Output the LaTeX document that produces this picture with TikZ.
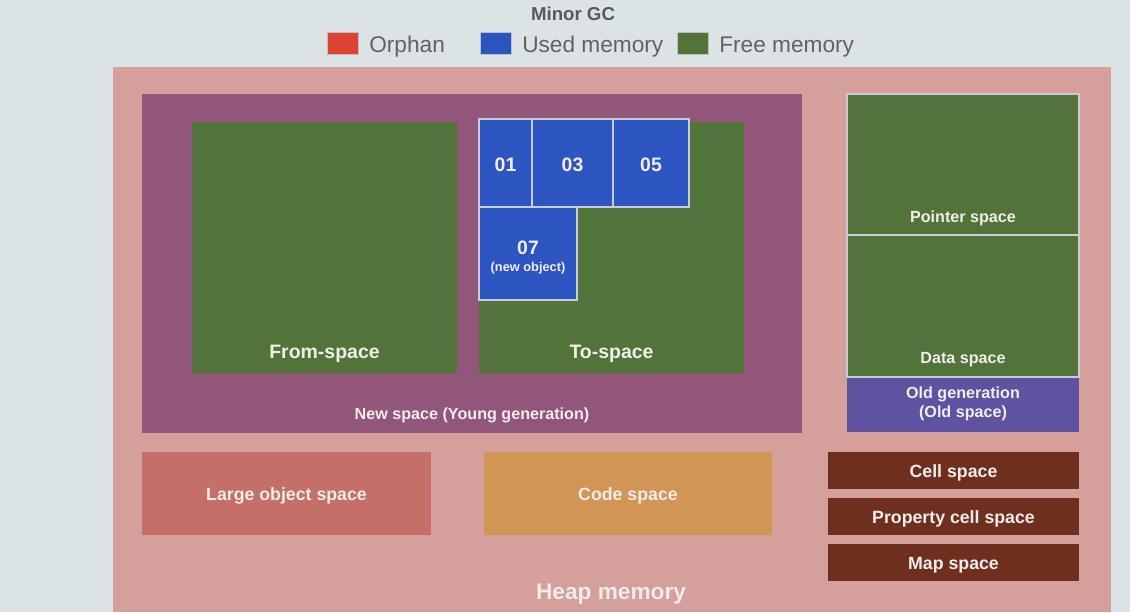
\documentclass[tikz,border=0pt]{standalone}
\usepackage{fontspec}
\setmainfont{Liberation Sans}
\usetikzlibrary{fit}
\definecolor{bgc}{HTML}{DCE3E5}
\definecolor{heapc}{HTML}{D59F9C}
\definecolor{newc}{HTML}{92567A}
\definecolor{greenc}{HTML}{52743A}
\definecolor{bluec}{HTML}{2D55C1}
\definecolor{edgec}{HTML}{C9CCD6}
\definecolor{oldc}{HTML}{5F52A1}
\definecolor{largec}{HTML}{C56F69}
\definecolor{codec}{HTML}{D19655}
\definecolor{brownc}{HTML}{6F2F1E}
\definecolor{orphc}{HTML}{DD4433}
\definecolor{legtxt}{HTML}{5F6368}
\definecolor{titlec}{HTML}{555A5E}
\definecolor{labc}{HTML}{F2ECEC}
\tikzset{
  area/.style={inner sep=0pt, outer sep=0pt, draw=none},
  cell/.style={inner sep=0pt, outer sep=0pt, draw=edgec, line width=0.8pt},
  lab/.style={text=labc, font=\bfseries\fontsize{13.3}{15}\selectfont, inner sep=0pt, align=center},
  big/.style={font=\bfseries\fontsize{14.6}{17}\selectfont},
  small/.style={font=\bfseries\fontsize{12.1}{14}\selectfont},
  legbox/.style={inner sep=0pt, minimum width=23.25pt, minimum height=16.5pt, draw=black!25, line width=0.4pt},
  legtext/.style={text=legtxt, font=\fontsize{17}{20}\selectfont, anchor=west, inner sep=0pt}
}
\begin{document}
\begin{tikzpicture}[x=0.75pt,y=-0.75pt]
\useasboundingbox (0,0) rectangle (1130,612);
\fill[bgc] (0,0) rectangle (1130,612);
% title and legend
\node[text=titlec, font=\bfseries\fontsize{14}{16}\selectfont] (title) at (573,14) {Minor GC};
\node[legbox, fill=orphc] (lo) at (342.5,43) {};
\node[legtext] (lot) at (369,47) {Orphan};
\node[legbox, fill=bluec] (lu) at (495.5,43) {};
\node[legtext] (lut) at (522,47) {Used memory};
\node[legbox, fill=greenc] (lf) at (692.5,43) {};
\node[legtext] (lft) at (719,47) {Free memory};
% heap
\node[area, fill=heapc, fit={(113,67) (1111,612)}] (heap) {};
\node[lab, font=\bfseries\fontsize{17}{20}\selectfont] (heaplab) at (611,594) {Heap memory};
% new space
\node[area, fill=newc, fit={(142,94) (802,433)}] (newsp) {};
\node[lab, small] (newlab) at (472,415) {New space (Young generation)};
\node[area, fill=greenc, fit={(192,122) (457,373)}] (from) {};
\node[lab, big] (fromlab) at (324.5,354) {From-space};
\node[area, fill=greenc, fit={(479,122) (744,373)}] (to) {};
\node[lab, big] (tolab) at (611.5,354) {To-space};
% used objects
\node[cell, fill=bluec, fit={(479,119) (532,207)}] (o1) {};
\node[lab, big] at (505.5,165) {01};
\node[cell, fill=bluec, fit={(532,119) (613,207)}] (o3) {};
\node[lab, big] at (572.5,165) {03};
\node[cell, fill=bluec, fit={(613,119) (689,207)}] (o5) {};
\node[lab, big] at (651,165) {05};
\node[cell, fill=bluec, fit={(479,207) (577,300)}] (o7) {};
\node[lab, big] (o7a) at (528,248) {07};
\node[lab, font=\bfseries\fontsize{9.6}{11}\selectfont] (o7b) at (528,268) {(new object)};
% old space
\node[cell, fill=greenc, fit={(847,94) (1079,235)}] (ptr) {};
\node[lab, small] (ptrlab) at (963,218) {Pointer space};
\node[cell, fill=greenc, fit={(847,235) (1079,377)}] (data) {};
\node[lab, small] (datalab) at (963,360) {Data space};
\node[area, fill=oldc, fit={(847,378) (1079,432)}] (old) {};
\node[lab, small] (oldlab) at (963,404) {Old generation\\[0.5pt](Old space)};
% other spaces
\node[area, fill=largec, fit={(142,452) (431,535)}] (large) {};
\node[lab] at (286.5,496) {Large object space};
\node[area, fill=codec, fit={(484,452) (772,535)}] (code) {};
\node[lab] at (628,496) {Code space};
\node[area, fill=brownc, fit={(828,452) (1079,489)}] (cellsp) {};
\node[lab] at (953.5,473) {Cell space};
\node[area, fill=brownc, fit={(828,498) (1079,535)}] (prop) {};
\node[lab] at (953.5,519) {Property cell space};
\node[area, fill=brownc, fit={(828,544) (1079,581)}] (map) {};
\node[lab] at (953.5,565) {Map space};
\end{tikzpicture}
\end{document}
